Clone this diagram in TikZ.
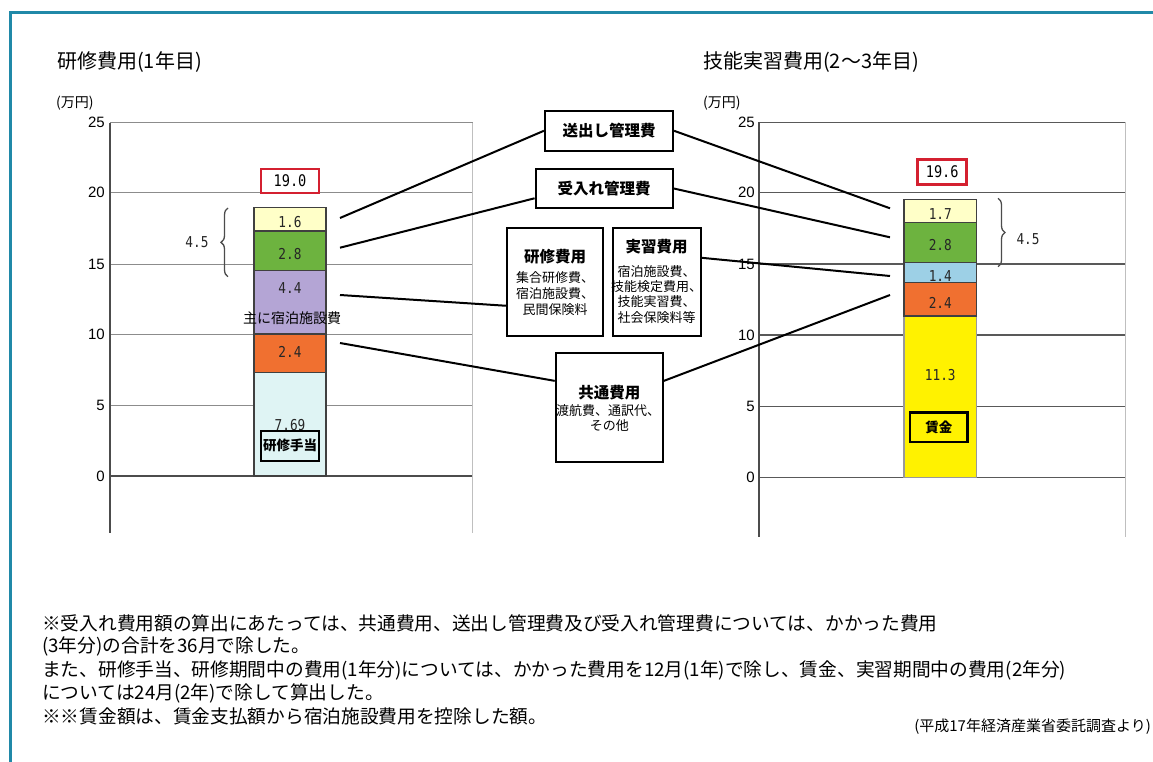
\documentclass[tikz,border=0pt]{standalone}
\usepackage{fontspec}
\setmainfont{Noto Sans CJK JP}
\newfontfamily\numfont[FakeStretch=0.85]{DejaVu Sans Mono}
\newfontfamily\tickfont{Liberation Sans}
\usetikzlibrary{decorations.pathreplacing}
\definecolor{frameC}{HTML}{2089A8}
\definecolor{cLtYel}{HTML}{FFFFC8}
\definecolor{cGreen}{HTML}{6DB33F}
\definecolor{cLav}{HTML}{B4A5D5}
\definecolor{cOrange}{HTML}{F07030}
\definecolor{cLtCyan}{HTML}{DFF4F4}
\definecolor{cLtBlue}{HTML}{9DD0E6}
\definecolor{cYellow}{HTML}{FFF200}
\definecolor{cRed}{HTML}{D42030}
\begin{document}
\begin{tikzpicture}[x=1pt,y=-1pt,
  frame/.style={draw=frameC,line width=3pt},
  grid/.style={draw=black!45,line width=1pt},
  gridR/.style={draw=black!65,line width=1.2pt},
  faint/.style={draw=black!25,line width=0.8pt},
  axisline/.style={draw=black!70,line width=1.2pt},
  tick/.style={font=\tickfont\fontsize{15}{18}\selectfont,inner sep=0pt,anchor=east},
  unit/.style={font=\fontsize{14}{17}\selectfont,inner sep=0pt,anchor=west},
  title/.style={font=\fontsize{20}{24}\selectfont,inner sep=0pt,anchor=west},
  seg/.style={draw=black!75,line width=1.2pt},
  num/.style={font=\numfont\fontsize{15}{18}\selectfont,inner sep=0pt,text=black!85},
  jsmall/.style={font=\fontsize{14}{17}\selectfont,inner sep=0pt},
  redbox/.style={draw=cRed,line width=2.5pt,fill=white,inner sep=0pt,font=\numfont\fontsize{16}{19}\selectfont},
  blkbox/.style={draw=black,line width=2.4pt,inner sep=0pt,font=\bfseries\fontsize{13.5}{16}\selectfont},
  catbox/.style={draw=black,line width=2.2pt,fill=white,inner sep=0pt,font=\bfseries\fontsize{15.5}{18}\selectfont},
  infobox/.style={draw=black,line width=2.2pt,fill=white,inner sep=0pt},
  boxtitle/.style={font=\bfseries\fontsize{15.5}{18}\selectfont,inner sep=0pt},
  boxline/.style={font=\fontsize{13}{16}\selectfont,inner sep=0pt},
  conn/.style={draw=black,line width=2pt},
  brace/.style={draw=black!70,line width=1.3pt,decorate,decoration={brace,amplitude=7pt}},
  note/.style={font=\fontsize{18.7}{22}\selectfont,inner sep=0pt,anchor=west}
]
\useasboundingbox (0,0) rectangle (1153,762);
\fill[white] (0,0) rectangle (1153,762);
% frame
\draw[frame] (10,762) -- (10,13) -- (1153,13);

% titles
\node[title] (t1) at (57,62) {研修費用(1年目)};
\node[title] (t2) at (703,62) {技能実習費用(2〜3年目)};
\node[unit] (u1) at (56,103) {(万円)};
\node[unit] (u2) at (703,103) {(万円)};

% left chart grid
\foreach \v/\y in {25/122.7,20/192.7,15/264,10/334.3,5/405.3} {
  \draw[grid] (110,\y) -- (472.7,\y);
  \node[tick] (lt\v) at (105,\y) {\v};
}
\draw[axisline] (110,476) -- (472.7,476);
\node[tick] (lt0) at (105,476) {0};
\draw[axisline] (110,122.7) -- (110,533);
\draw[faint] (472.7,122.7) -- (472.7,533);

% right chart grid
\foreach \v/\y in {25/122.3,20/192.7,15/264,10/335,5/406.7,0/477.7} {
  \draw[gridR] (759,\y) -- (1125,\y);
  \node[tick] (rt\v) at (755,\y) {\v};
}
\draw[axisline] (759,122.3) -- (759,537);
\draw[faint] (1125,122.3) -- (1125,537);

% left bar
\filldraw[seg,fill=cLtCyan] (254,372.7) rectangle (326,476);
\filldraw[seg,fill=cOrange] (254,334) rectangle (326,372.7);
\filldraw[seg,fill=cLav] (254,270.7) rectangle (326,334);
\filldraw[seg,fill=cGreen] (254,231) rectangle (326,270.7);
\filldraw[seg,fill=cLtYel] (254,207.3) rectangle (326,231);
\node[num] (l16) at (290,221.7) {1.6};
\node[num] (l28) at (290,254) {2.8};
\node[num] (l44) at (290,288) {4.4};
\node[jsmall] (lmain) at (292,318) {主に宿泊施設費};
\node[num] (l24) at (290,352) {2.4};
\node[num] (l769) at (290,425) {7.69};
\node[blkbox,minimum width=58,minimum height=30] (kteate) at (290,445.7) {研修手当};
\node[redbox,minimum width=58,minimum height=24] (tot1) at (290,181) {19.0};

% right bar
\filldraw[seg,draw=black!40,fill=cYellow] (904,316) rectangle (976.7,477.7);
\filldraw[seg,fill=cLtBlue] (904,262.7) rectangle (976.7,282.7);
\node[num] (r14) at (940.3,276) {1.4};
\filldraw[seg,fill=cOrange] (904,282.7) rectangle (976.7,316);
\filldraw[seg,fill=cGreen] (904,222.7) rectangle (976.7,262.7);
\filldraw[seg,fill=cLtYel] (904,199.3) rectangle (976.7,222.7);
\node[num] (r17) at (940.3,214) {1.7};
\node[num] (r28) at (940.3,245) {2.8};
\node[num] (r24) at (940.3,303.3) {2.4};
\node[num] (r113) at (940.3,375) {11.3};
\node[blkbox,minimum width=57.7,minimum height=29.4] (chingin) at (938.8,427) {賃金};
\node[redbox,minimum width=49,minimum height=25] (tot2) at (942.2,171.8) {19.6};

% braces
\coordinate (brL1) at (228,276.7);
\coordinate (brL2) at (228,208);
\draw[brace] (brL1) -- (brL2);
\node[num] (l45) at (197,242) {4.5};
\coordinate (brR1) at (998,198.3);
\coordinate (brR2) at (998,266.7);
\draw[brace] (brR1) -- (brR2);
\node[num] (r45) at (1028,239.3) {4.5};

% center boxes
\node[catbox,minimum width=128,minimum height=40.3] (okuri) at (609,130.8) {送出し管理費};
\node[catbox,minimum width=137,minimum height=39] (ukeire) at (604.2,188.5) {受入れ管理費};
\node[infobox,minimum width=96,minimum height=108.3] (kbox) at (555,281.8) {};
\node[boxtitle] (kboxT) at (555,256.7) {研修費用};
\node[boxline] (kboxA) at (555,278) {集合研修費、};
\node[boxline] (kboxB) at (555,294) {宿泊施設費、};
\node[boxline] (kboxC) at (555,310) {民間保険料};
\node[infobox,minimum width=88,minimum height=108.3] (jbox) at (656.7,281.8) {};
\node[boxtitle] (jboxT) at (656.7,246.7) {実習費用};
\node[boxline] (jboxA) at (656.7,271.7) {宿泊施設費、};
\node[boxline] (jboxB) at (656.7,286.5) {技能検定費用、};
\node[boxline] (jboxC) at (656.7,302) {技能実習費、};
\node[boxline] (jboxD) at (656.7,318) {社会保険料等};
\node[infobox,minimum width=107,minimum height=109] (kyotsu) at (609.3,407.5) {};
\node[boxtitle] (kyT) at (609.3,393) {共通費用};
\node[boxline] (kyA) at (608,411) {渡航費、通訳代、};
\node[boxline] (kyB) at (609.3,426) {その他};

% connectors
\coordinate (a1) at (340,218);
\coordinate (a2) at (340,247.7);
\coordinate (a3) at (340,295);
\coordinate (a4) at (340,343);
\coordinate (b1) at (890,208.3);
\coordinate (b2) at (890,237.3);
\coordinate (b3) at (890,276);
\coordinate (b4) at (890,295);
\draw[conn] (a1) -- (okuri.west);
\draw[conn] (okuri.east) -- (b1);
\draw[conn] (a2) -- (ukeire.188);
\draw[conn] (ukeire.east) -- (b2);
\draw[conn] (a3) -- (kbox.206);
\draw[conn] (jbox.28) -- (b3);
\draw[conn] (a4) -- (kyotsu.154);
\draw[conn] (kyotsu.26) -- (b4);

% notes
\node[note] (n1) at (42,623) {※受入れ費用額の算出にあたっては、共通費用、送出し管理費及び受入れ管理費については、かかった費用};
\node[note] (n2) at (42,646.7) {(3年分)の合計を36月で除した。};
\node[note] (n3) at (42,670.7) {また、研修手当、研修期間中の費用(1年分)については、かかった費用を12月(1年)で除し、賃金、実習期間中の費用(2年分)};
\node[note] (n4) at (42,693) {については24月(2年)で除して算出した。};
\node[note] (n5) at (42,716.7) {※※賃金額は、賃金支払額から宿泊施設費用を控除した額。};
\node[font=\fontsize{15}{18}\selectfont,inner sep=0pt,anchor=east] (src) at (1151,727) {(平成17年経済産業省委託調査より)};
\end{tikzpicture}
\end{document}
